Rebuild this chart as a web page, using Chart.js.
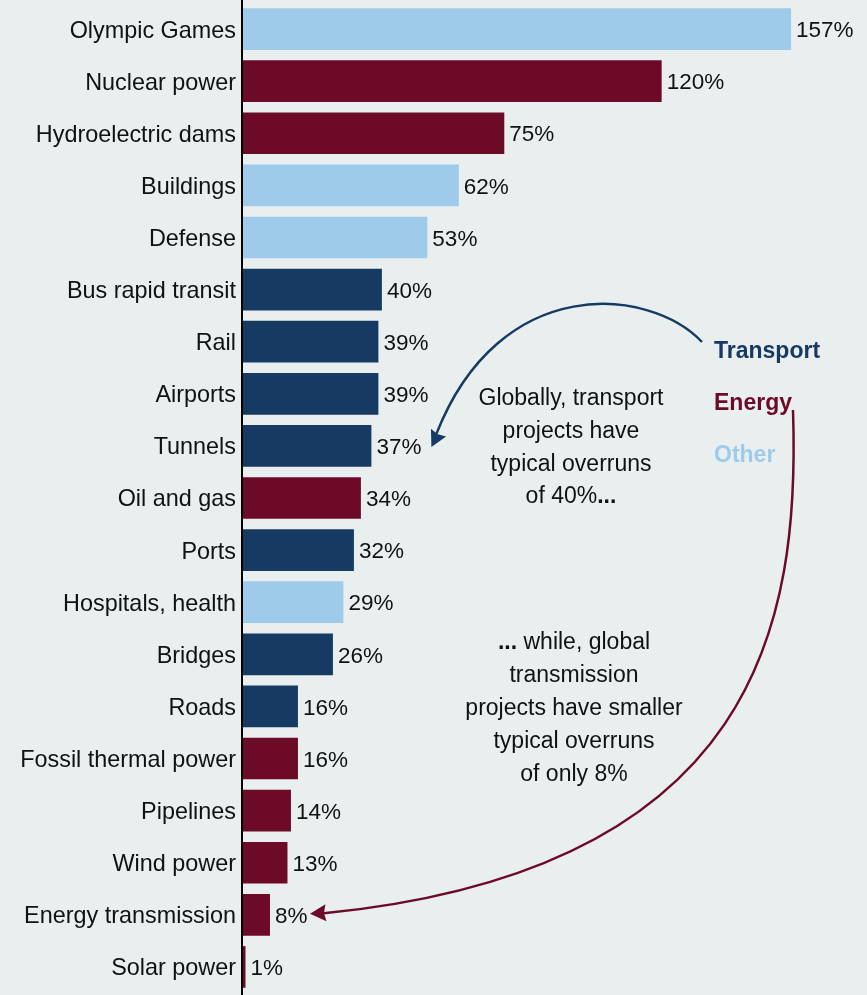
<!DOCTYPE html>
<html>
<head>
<meta charset="utf-8">
<script src="https://cdn.jsdelivr.net/npm/chart.js@4"></script>
<style>
  html, body { margin: 0; padding: 0; background: #e9efef; }
  #wrap { width: 867px; height: 995px; }
</style>
</head>
<body>
<div id="wrap"><canvas id="overrunChart" width="867" height="995"></canvas></div>
<script>
/* --------- データ --------- */
const categories = [
  "Olympic Games", "Nuclear power", "Hydroelectric dams", "Buildings", "Defense",
  "Bus rapid transit", "Rail", "Airports", "Tunnels", "Oil and gas", "Ports",
  "Hospitals, health", "Bridges", "Roads", "Fossil thermal power", "Pipelines",
  "Wind power", "Energy transmission", "Solar power",
];
const overruns = [157, 120, 75, 62, 53, 40, 39, 39, 37, 34, 32, 29, 26, 16, 16, 14, 13, 8, 1];
const sectors = [
  "Other", "Energy", "Energy", "Other", "Other",
  "Transport", "Transport", "Transport", "Transport", "Energy", "Transport",
  "Other", "Transport", "Transport", "Energy", "Energy",
  "Energy", "Energy", "Energy",
];
const xTicks = [0, 175];

// セクターごとの色
const sectorColors = {
  Transport: "#163a62",
  Energy: "#6d0a28",
  Other: "#9ecbe9",
};

const FONT = "'Liberation Sans', Arial, sans-serif";
const TXT = "23px " + FONT;
const TXT_B = "bold 23px " + FONT;

/* --------- 注記描画プラグイン --------- */
function drawArrowHead(ctx, tipX, tipY, fromX, fromY, color) {
  const ang = Math.atan2(tipY - fromY, tipX - fromX);
  const len = 16, half = 8.5;
  ctx.save();
  ctx.fillStyle = color;
  ctx.translate(tipX, tipY);
  ctx.rotate(ang);
  ctx.beginPath();
  ctx.moveTo(0, 0);
  ctx.lineTo(-len, -half);
  ctx.lineTo(-len + 2, 0);
  ctx.lineTo(-len, half);
  ctx.closePath();
  ctx.fill();
  ctx.restore();
}

// 通常文字と太字の"..."を混ぜて中央揃えで描く
function drawMixed(ctx, parts, cx, y) {
  const widths = parts.map(([t, bold]) => {
    ctx.font = bold ? TXT_B : TXT;
    return ctx.measureText(t).width;
  });
  let x = cx - widths.reduce((a, b) => a + b, 0) / 2;
  parts.forEach(([t, bold], i) => {
    ctx.font = bold ? TXT_B : TXT;
    ctx.fillText(t, x, y);
    x += widths[i];
  });
}

const annotationPlugin = {
  id: "annotations",
  afterDatasetsDraw(chart) {
    const ctx = chart.ctx;
    const meta = chart.getDatasetMeta(0);
    const xs = chart.scales.x;
    const ys = chart.scales.y;

    // 値ラベル
    ctx.save();
    ctx.font = "22.5px " + FONT;
    ctx.fillStyle = "#111";
    ctx.textAlign = "left";
    ctx.textBaseline = "middle";
    meta.data.forEach((bar, i) => {
      ctx.fillText(overruns[i] + "%", bar.x + 5, bar.y + 2);
    });
    ctx.restore();

    // 縦軸の線
    ctx.save();
    ctx.strokeStyle = "#000";
    ctx.lineWidth = 2;
    ctx.beginPath();
    ctx.moveTo(xs.left, 0);
    ctx.lineTo(xs.left, chart.height);
    ctx.stroke();
    ctx.restore();

    // 凡例テキスト
    ctx.save();
    ctx.font = "bold 23px " + FONT;
    ctx.textAlign = "left";
    ctx.textBaseline = "middle";
    [["Transport", 352], ["Energy", 404], ["Other", 456]].forEach(([name, y]) => {
      ctx.fillStyle = sectorColors[name];
      ctx.fillText(name, 714, y);
    });
    ctx.restore();

    // 説明文
    ctx.save();
    ctx.fillStyle = "#111";
    ctx.textAlign = "left";
    ctx.textBaseline = "middle";
    const block1 = ["Globally, transport", "projects have", "typical overruns"];
    block1.forEach((t, i) => drawMixed(ctx, [[t, false]], 571, 399 + i * 32.8));
    drawMixed(ctx, [["of 40%", false], ["...", true]], 571, 497);

    drawMixed(ctx, [["...", true], [" while, global", false]], 574, 643);
    ["transmission", "projects have smaller", "typical overruns", "of only 8%"].forEach((t, i) =>
      drawMixed(ctx, [[t, false]], 574, 676 + i * 32.8)
    );
    ctx.restore();

    // 矢印（輸送）
    const tIdx = categories.indexOf("Tunnels");
    const tTipX = xs.getPixelForValue(overruns[tIdx]) + 60;
    const tTipY = ys.getPixelForValue(tIdx) + 1;
    ctx.save();
    ctx.strokeStyle = sectorColors.Transport;
    ctx.lineWidth = 2.5;
    ctx.beginPath();
    ctx.moveTo(702, 342);
    ctx.bezierCurveTo(650, 287, 500, 272, tTipX + 5, tTipY - 13);
    ctx.stroke();
    ctx.restore();
    drawArrowHead(ctx, tTipX, tTipY, tTipX + 7, tTipY - 14, sectorColors.Transport);

    // 矢印（エネルギー）
    const eIdx = categories.indexOf("Energy transmission");
    const eTipX = xs.getPixelForValue(overruns[eIdx]) + 40;
    const eTipY = ys.getPixelForValue(eIdx) - 1;
    ctx.save();
    ctx.strokeStyle = sectorColors.Energy;
    ctx.lineWidth = 2.5;
    ctx.beginPath();
    ctx.moveTo(793, 410);
    ctx.bezierCurveTo(800, 620, 760, 870, eTipX + 14, eTipY - 0.5);
    ctx.stroke();
    ctx.restore();
    drawArrowHead(ctx, eTipX, eTipY, eTipX + 16, eTipY - 1, sectorColors.Energy);
  },
};

/* --------- グラフ描画 --------- */
window.addEventListener("DOMContentLoaded", () => {
  new Chart(document.getElementById("overrunChart"), {
    type: "bar",
    data: {
      labels: categories,
      datasets: [
        {
          data: overruns,
          backgroundColor: sectors.map((s) => sectorColors[s]),
          borderWidth: 0,
          categoryPercentage: 0.8,
          barPercentage: 1.0,
        },
      ],
    },
    options: {
      indexAxis: "y",
      responsive: false,
      animation: false,
      layout: { padding: { top: 3, bottom: 2, left: 0, right: 13 } },
      plugins: {
        legend: { display: false },
        tooltip: { enabled: false },
      },
      scales: {
        x: {
          display: false,
          min: xTicks[0],
          max: xTicks[1],
        },
        y: {
          grid: { display: false, drawTicks: false },
          border: { display: false },
          ticks: {
            color: "#111",
            padding: 6,
            labelOffset: 2,
            font: { family: FONT, size: 23.4 },
          },
          afterFit(scale) {
            scale.width = 242;
            // ラベルの高さ分の余白を消す
            scale.paddingTop = 0;
            scale.paddingBottom = 0;
          },
        },
      },
    },
    plugins: [annotationPlugin],
  });
});
</script>
</body>
</html>
